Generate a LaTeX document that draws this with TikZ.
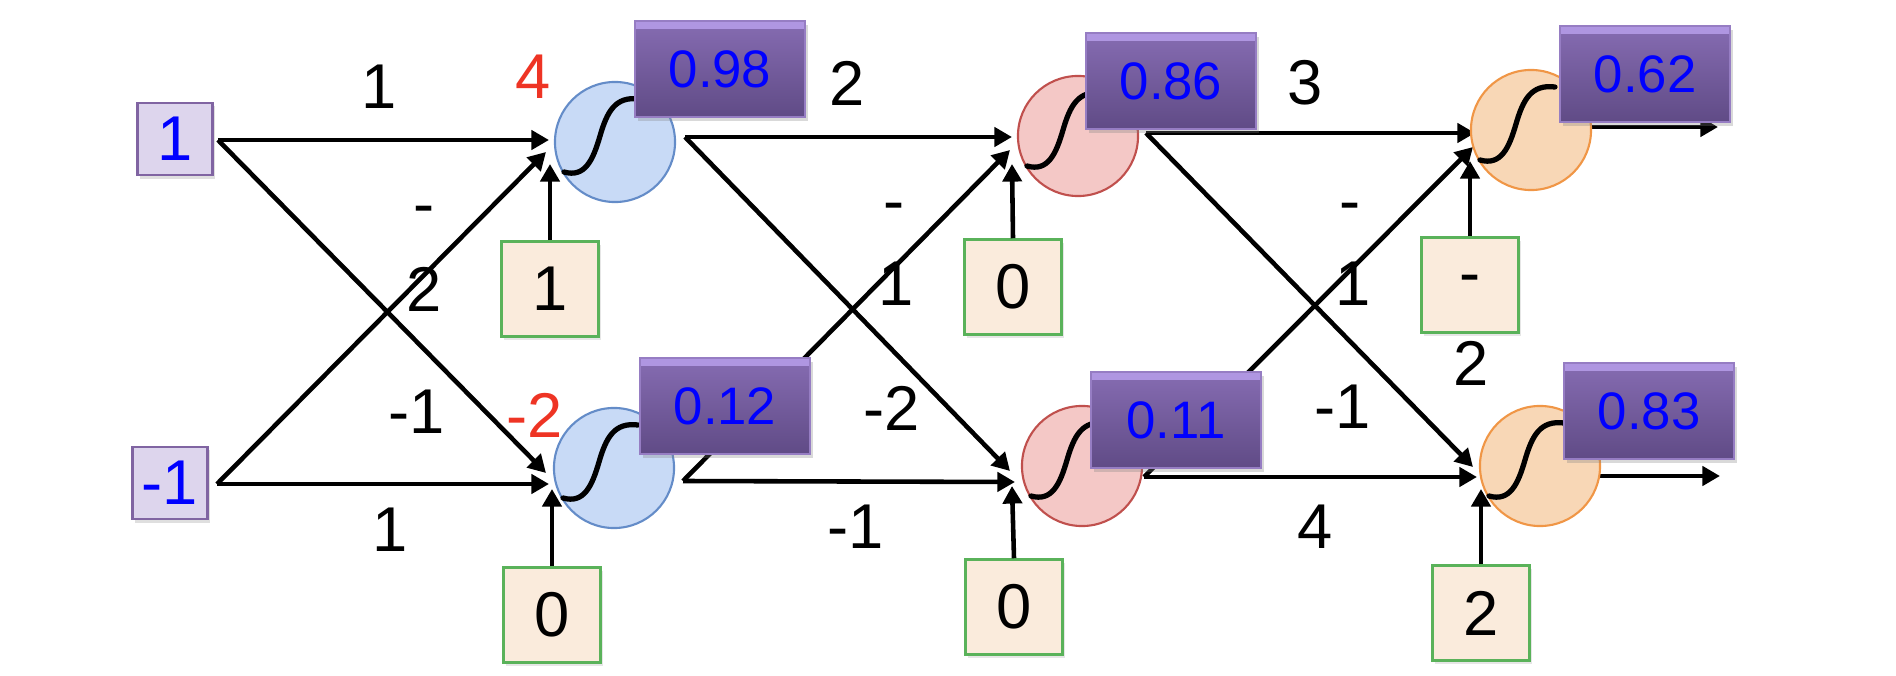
\documentclass[tikz,border=0pt]{standalone}
\usepackage{fontspec}
\setmainfont{Liberation Sans}
\usetikzlibrary{arrows.meta,shadows}
\definecolor{txtblue}{RGB}{0,0,255}
\definecolor{txtred}{RGB}{238,52,36}
\definecolor{nbluef}{RGB}{200,218,246}
\definecolor{nblued}{RGB}{100,140,200}
\definecolor{npinkf}{RGB}{244,200,198}
\definecolor{npinkd}{RGB}{192,80,77}
\definecolor{norangef}{RGB}{248,215,182}
\definecolor{noranged}{RGB}{240,150,70}
\definecolor{inf}{RGB}{221,213,237}
\definecolor{ind}{RGB}{128,100,162}
\definecolor{bif}{RGB}{250,235,220}
\definecolor{bid}{RGB}{90,178,90}
\definecolor{vtop}{RGB}{134,108,178}
\definecolor{vbot}{RGB}{96,75,134}
\definecolor{vedge}{RGB}{150,125,195}
\definecolor{vhi}{RGB}{175,150,225}
\begin{document}
\begin{tikzpicture}[x=0.01cm,y=-0.01cm,
  big/.style={font=\fontsize{18}{20}\selectfont},
  inbox/.style={draw=ind,fill=inf,line width=0.7pt,minimum width=0.75cm,minimum height=0.72cm,inner sep=0pt,big,text=txtblue,drop shadow={opacity=0.25,shadow xshift=0.6pt,shadow yshift=-1pt}},
  biasbox/.style={draw=bid,fill=bif,line width=0.7pt,minimum width=0.97cm,minimum height=0.95cm,inner sep=0pt,big,drop shadow={opacity=0.2,shadow xshift=0.6pt,shadow yshift=-1pt}},
  neuron/.style={circle,line width=0.6pt,minimum size=1.2cm,inner sep=0pt},
  valbox/.style={draw=vedge,line width=0.6pt,top color=vtop,bottom color=vbot,minimum width=1.7cm,minimum height=0.96cm,inner sep=0pt,text=txtblue,font=\fontsize{15}{17}\selectfont,drop shadow={opacity=0.3,shadow xshift=0.8pt,shadow yshift=-1.2pt},
    path picture={\fill[vhi] (path picture bounding box.north west) rectangle ([yshift=-2.2pt]path picture bounding box.north east);}},
  conn/.style={line width=1.3pt,-{Triangle[length=5pt,width=5.4pt]}},
  sig/.style={line width=1.5pt,line cap=round},
  wlab/.style={big,inner sep=0pt},
  rlab/.style={big,inner sep=0pt,text=txtred}]
\useasboundingbox (0,0) rectangle (1896,676);

% input and bias boxes
\node[inbox] (I1) at (175,139) {1};
\node[inbox] (I2) at (170,483) {-1};
\node[biasbox] (B1) at (550,289) {1};
\node[biasbox] (B2) at (552,615) {0};
\node[biasbox] (B3) at (1013,287) {0};
\node[biasbox] (B4) at (1014,607) {0};
\node[biasbox] (B5) at (1470,285) {-};
\node[biasbox] (B6) at (1481,613) {2};

% connection points
\coordinate (I1o) at (218,140);
\coordinate (I2o) at (217,484);
\coordinate (N1h) at (549,140);
\coordinate (N1x) at (546,152);
\coordinate (N1b) at (550,164);
\coordinate (N2x) at (546,473);
\coordinate (N2h) at (549,484);
\coordinate (N2b) at (552,489);
\coordinate (N1o) at (685,137);
\coordinate (N2o) at (683,481);
\coordinate (N3h) at (1012,137);
\coordinate (N3x) at (1010,150);
\coordinate (N3b) at (1012,164);
\coordinate (N4x) at (1010,471);
\coordinate (N4h) at (1015,482);
\coordinate (N4b) at (1012,486);
\coordinate (N3o) at (1146,133);
\coordinate (N4o) at (1144,477);
\coordinate (N5h) at (1475,133);
\coordinate (N5x) at (1473,147);
\coordinate (N5b) at (1470,161);
\coordinate (N6x) at (1473,467);
\coordinate (N6h) at (1477,477);
\coordinate (N6b) at (1481,489);
\coordinate (N5o) at (1591,127);
\coordinate (N6o) at (1600,476);
\coordinate (out1) at (1718,127);
\coordinate (out2) at (1720,476);

% connectors
\draw[conn] (I1o) -- (N1h);
\draw[conn] (I1o) -- (N2x);
\draw[conn] (I2o) -- (N1x);
\draw[conn] (I2o) -- (N2h);
\draw[conn] (B1.north) -- (N1b);
\draw[conn] (B2.north) -- (N2b);
\draw[conn] (N1o) -- (N3h);
\draw[conn] (N1o) -- (N4x);
\draw[conn] (N2o) -- (N3x);
\draw[conn] (N2o) -- (N4h);
\draw[conn] (B3.north) -- (N3b);
\draw[conn] (B4.north) -- (N4b);
\draw[conn] (N3o) -- (N5h);
\draw[conn] (N3o) -- (N6x);
\draw[conn] (N4o) -- (N5x);
\draw[conn] (N4o) -- (N6h);
\draw[conn] (B5.north) -- (N5b);
\draw[conn] (B6.north) -- (N6b);
\draw[conn] (N5o) -- (out1);
\draw[conn] (N6o) -- (out2);

% neurons
\node[neuron,fill=nbluef,draw=nblued] (N1) at (615,142) {};
\node[neuron,fill=nbluef,draw=nblued] (N2) at (614,468) {};
\node[neuron,fill=npinkf,draw=npinkd] (N3) at (1078,136) {};
\node[neuron,fill=npinkf,draw=npinkd] (N4) at (1082,466) {};
\node[neuron,fill=norangef,draw=noranged] (N5) at (1531,130) {};
\node[neuron,fill=norangef,draw=noranged] (N6) at (1540,466) {};

% sigmoid curves
\foreach \n in {N1,N2,N3,N4,N5,N6}{
  \draw[sig,shift={(\n.center)}] (-51,30) .. controls (-30,36) and (-22,18) .. (-15,-6)
    .. controls (-8,-30) and (0,-46) .. (24,-43);
}

% value boxes
\node[valbox] (V1) at (720,69) {0.98};
\node[valbox] (V2) at (725,406) {0.12};
\node[valbox] (V3) at (1171,81) {0.86};
\node[valbox] (V4) at (1176,420) {0.11};
\node[valbox] (V5) at (1645,74) {0.62};
\node[valbox] (V6) at (1649,411) {0.83};

% weight labels
\node[wlab] (w1) at (379,87) {1};
\node[wlab] (w2a) at (424,216) {-};
\node[wlab] (w2b) at (424,289) {2};
\node[wlab] (w3) at (417,412) {-1};
\node[wlab] (w4) at (390,530) {1};
\node[rlab] (r1) at (533,77) {4};
\node[rlab] (r2) at (535,415) {-2};
\node[wlab] (w5) at (847,83) {2};
\node[wlab] (w6a) at (894,213) {-};
\node[wlab] (w6b) at (896,284) {1};
\node[wlab] (w7) at (892,408) {-2};
\node[wlab] (w8) at (856,527) {-1};
\node[wlab] (w9) at (1305,83) {3};
\node[wlab] (w10a) at (1350,213) {-};
\node[wlab] (w10b) at (1353,284) {1};
\node[wlab] (w11) at (1343,407) {-1};
\node[wlab] (w12) at (1315,527) {4};
\node[wlab] (b5x) at (1471,363) {2};
\end{tikzpicture}
\end{document}
